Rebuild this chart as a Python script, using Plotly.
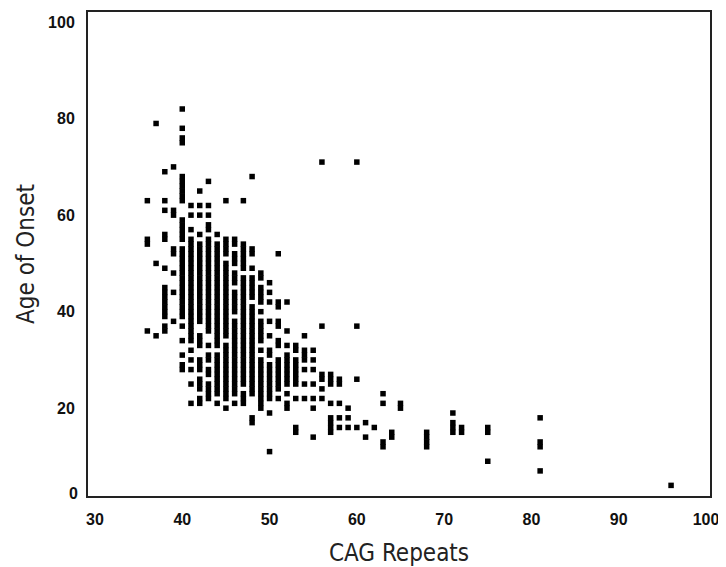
import plotly.graph_objects as go

# CAG repeat length -> list of ages of onset
cag_values = [36, 37, 38, 39, 40, 41, 42, 43, 44, 45, 46, 47, 48, 49, 50, 51, 52, 53, 54,
              55, 56, 57, 58, 59, 60, 61, 62, 63, 64, 65, 68, 71, 72, 75, 81, 96]

ages_36 = [63, 55, 54, 36]
ages_37 = [79, 50, 35]
ages_38 = [69, 63, 61, 56, 55, 49, 45, 44, 43, 42, 41, 40, 39, 37, 36]
ages_39 = [70, 61, 60, 53, 52, 48, 44, 38]
ages_40 = [82, 78, 76, 75, 68, 67, 66, 65, 64, 63, 59, 58, 57, 56, 55, 53, 52, 51, 50, 49,
           48, 47, 46, 45, 44, 43, 42, 41, 40, 39, 37, 34, 31, 29, 28]
ages_41 = [62, 60, 57, 55, 54, 53, 52, 51, 50, 49, 48, 47, 46, 45, 44, 43, 42, 41, 40, 39,
           38, 37, 36, 35, 34, 32, 30, 28, 25, 21]
ages_42 = [65, 62, 60, 56, 54, 53, 52, 51, 50, 49, 48, 47, 46, 45, 44, 43, 42, 41, 40, 39,
           38, 35, 34, 33, 30, 29, 28, 26, 25, 24, 22, 21]
ages_43 = [67, 62, 60, 58, 57, 55, 54, 53, 52, 51, 50, 49, 48, 47, 46, 45, 44, 43, 42, 41,
           40, 39, 38, 37, 36, 33, 31, 30, 28, 27, 25, 24, 23, 22]
ages_44 = [56, 54, 53, 52, 51, 50, 49, 48, 47, 46, 45, 44, 43, 42, 41, 40, 39, 38, 37, 36,
           35, 34, 33, 31, 30, 29, 28, 27, 26, 25, 24, 23, 21]
ages_45 = [63, 55, 54, 53, 52, 50, 49, 48, 47, 46, 45, 44, 43, 42, 41, 40, 39, 38, 37, 36,
           35, 33, 32, 31, 30, 29, 28, 27, 26, 25, 24, 23, 22, 20]
ages_46 = [55, 54, 52, 51, 50, 48, 47, 46, 44, 43, 42, 41, 40, 38, 37, 36, 35, 34, 33, 32,
           31, 30, 29, 28, 27, 26, 25, 24, 23, 21]
ages_47 = [63, 54, 53, 52, 51, 50, 49, 47, 46, 45, 44, 43, 42, 41, 40, 39, 38, 37, 36, 35,
           34, 33, 32, 31, 30, 29, 28, 27, 26, 25, 23, 22, 21]
ages_48 = [68, 53, 52, 49, 47, 46, 45, 44, 43, 41, 40, 39, 38, 37, 36, 35, 34, 33, 32, 31,
           30, 29, 28, 27, 26, 25, 24, 23, 18, 17]
ages_49 = [48, 47, 45, 44, 43, 42, 40, 38, 37, 36, 35, 34, 32, 30, 29, 28, 27, 26, 25, 24,
           23, 22, 21, 20]
ages_50 = [46, 44, 42, 38, 35, 32, 31, 29, 28, 27, 26, 25, 24, 23, 22, 19, 11]
ages_51 = [52, 42, 41, 38, 37, 34, 33, 30, 29, 28, 27, 26, 25, 24, 22]
ages_52 = [42, 36, 33, 31, 30, 29, 28, 27, 26, 25, 23, 21, 20]
ages_53 = [33, 32, 30, 29, 28, 27, 26, 25, 22, 16, 15]
ages_54 = [35, 32, 31, 30, 28, 25, 22]
ages_55 = [32, 30, 28, 25, 22, 20, 14]
ages_56 = [71, 37, 27, 26, 24, 22]
ages_57 = [27, 26, 25, 21, 18, 17, 16, 15]
ages_58 = [26, 25, 21, 18, 16]
ages_59 = [20, 18, 16]
ages_60 = [71, 37, 26, 16]
ages_61 = [17, 14]
ages_62 = [16]
ages_63 = [23, 21, 13, 12]
ages_64 = [15, 14]
ages_65 = [21, 20]
ages_68 = [15, 14, 13, 12]
ages_71 = [19, 17, 16, 15]
ages_72 = [16, 15]
ages_75 = [16, 15, 9]
ages_81 = [18, 13, 12, 7]
ages_96 = [4]

age_lists = [ages_36, ages_37, ages_38, ages_39, ages_40, ages_41, ages_42, ages_43, ages_44,
             ages_45, ages_46, ages_47, ages_48, ages_49, ages_50, ages_51, ages_52, ages_53,
             ages_54, ages_55, ages_56, ages_57, ages_58, ages_59, ages_60, ages_61, ages_62,
             ages_63, ages_64, ages_65, ages_68, ages_71, ages_72, ages_75, ages_81, ages_96]

x_ticks = [30, 40, 50, 60, 70, 80, 90, 100]
y_ticks = [20, 40, 60, 80, 100]

xs, ys = [], []
for c, lst in zip(cag_values, age_lists):
    for a in lst:
        xs.append(c)
        ys.append(a)

fig = go.Figure(go.Scatter(
    x=xs, y=ys, mode="markers",
    marker=dict(symbol="square", size=5.5, color="black", line=dict(width=0)),
    hoverinfo="x+y",
))

tick_font = dict(family="Liberation Sans, Arial, sans-serif", size=16, color="#111111", weight="bold")
title_font = dict(family="DejaVu Sans Condensed, DejaVu Sans, sans-serif", size=24, color="#222222")

# the page body has an 8px default margin, so the figure is sized to fit the 726x567 window
fig.update_layout(
    width=718, height=559,
    margin=dict(l=80, r=16, t=2, b=64),
    paper_bgcolor="white", plot_bgcolor="white",
    showlegend=False,
    xaxis=dict(
        range=[29.2, 100.46], tickvals=x_ticks, ticktext=[str(v) for v in x_ticks],
        showgrid=False, zeroline=False, showline=True, mirror=True,
        linecolor="#222222", linewidth=2, ticks="", ticklabelstandoff=8,
        tickfont=tick_font,
        title=dict(text="CAG Repeats", font=title_font, standoff=20),
    ),
    yaxis=dict(
        range=[1.8, 102.1], tickvals=y_ticks, ticktext=[str(v) for v in y_ticks],
        showgrid=False, zeroline=False, showline=True, mirror=True,
        linecolor="#222222", linewidth=2, ticks="", ticklabelstandoff=8,
        tickfont=tick_font,
        title=dict(text="Age of Onset", font=title_font, standoff=7),
    ),
    annotations=[dict(
        text="0", xref="paper", yref="paper", x=0, y=0, xanchor="right", yanchor="middle",
        xshift=-8, yshift=3, showarrow=False, font=tick_font,
    )],
)

fig.write_html("out.html")
